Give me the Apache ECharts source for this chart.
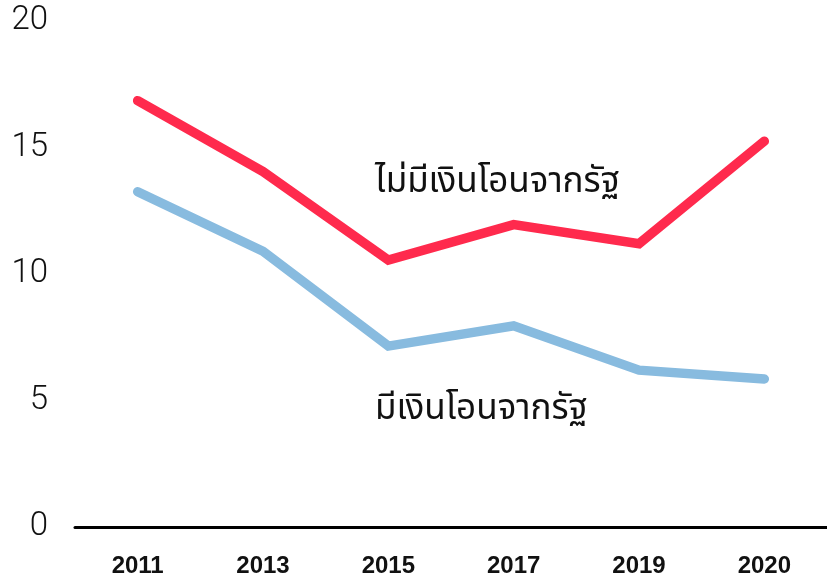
<!DOCTYPE html>
<html>
<head>
<meta charset="utf-8">
<script src="https://cdn.jsdelivr.net/npm/echarts@6/dist/echarts.min.js"></script>
<style>
  html, body { margin: 0; padding: 0; background: #fff; }
  #chart { width: 827px; height: 581px; }
</style>
</head>
<body>
<div id="chart"></div>
<script>
// 数据
const years = ['2011', '2013', '2015', '2017', '2019', '2020'];
const noTransfer = [16.85, 14.05, 10.55, 11.95, 11.2, 15.25];   // ไม่มีเงินโอนจากรัฐ
const withTransfer = [13.25, 10.9, 7.15, 7.95, 6.2, 5.85];      // มีเงินโอนจากรัฐ
const yTicks = [0, 5, 10, 15, 20];

const chart = echarts.init(document.getElementById('chart'));

const option = {
  animation: false,
  grid: {
    left: 75,
    top: 21,
    width: 756,
    height: 506
  },
  xAxis: {
    type: 'category',
    data: years,
    boundaryGap: true,
    axisLine: { show: true, lineStyle: { color: '#000', width: 3 } },
    axisTick: { show: false },
    axisLabel: {
      margin: 27,
      color: '#111',
      fontSize: 24,
      fontWeight: 'bold',
      fontFamily: '"Liberation Sans Narrow", "Arial Narrow", "Liberation Sans", sans-serif'
    }
  },
  yAxis: {
    type: 'value',
    min: yTicks[0],
    max: yTicks[yTicks.length - 1],
    interval: 5,
    axisLine: { show: false },
    axisTick: { show: false },
    splitLine: { show: false },
    axisLabel: {
      margin: 27,
      color: '#111',
      fontSize: 33,
      fontWeight: 300,
      fontFamily: 'Roboto, sans-serif'
    }
  },
  series: [
    {
      name: 'ไม่มีเงินโอนจากรัฐ',
      type: 'line',
      data: noTransfer,
      symbol: 'none',
      lineStyle: { color: '#FF2A4D', width: 9.5, cap: 'round', join: 'miter' }
    },
    {
      name: 'มีเงินโอนจากรัฐ',
      type: 'line',
      data: withTransfer,
      symbol: 'none',
      lineStyle: { color: '#88BBDF', width: 9.5, cap: 'round', join: 'miter' }
    }
  ],
  graphic: [
    {
      type: 'text',
      left: 375,
      top: 167,
      style: {
        text: 'ไม่มีเงินโอนจากรัฐ',
        fill: '#111',
        fontSize: 35,
        fontFamily: '"Noto Sans Thai", "Noto Sans", sans-serif'
      }
    },
    {
      type: 'text',
      left: 375,
      top: 394,
      style: {
        text: 'มีเงินโอนจากรัฐ',
        fill: '#111',
        fontSize: 35,
        fontFamily: '"Noto Sans Thai", "Noto Sans", sans-serif'
      }
    }
  ]
};

chart.setOption(option);
</script>
</body>
</html>
